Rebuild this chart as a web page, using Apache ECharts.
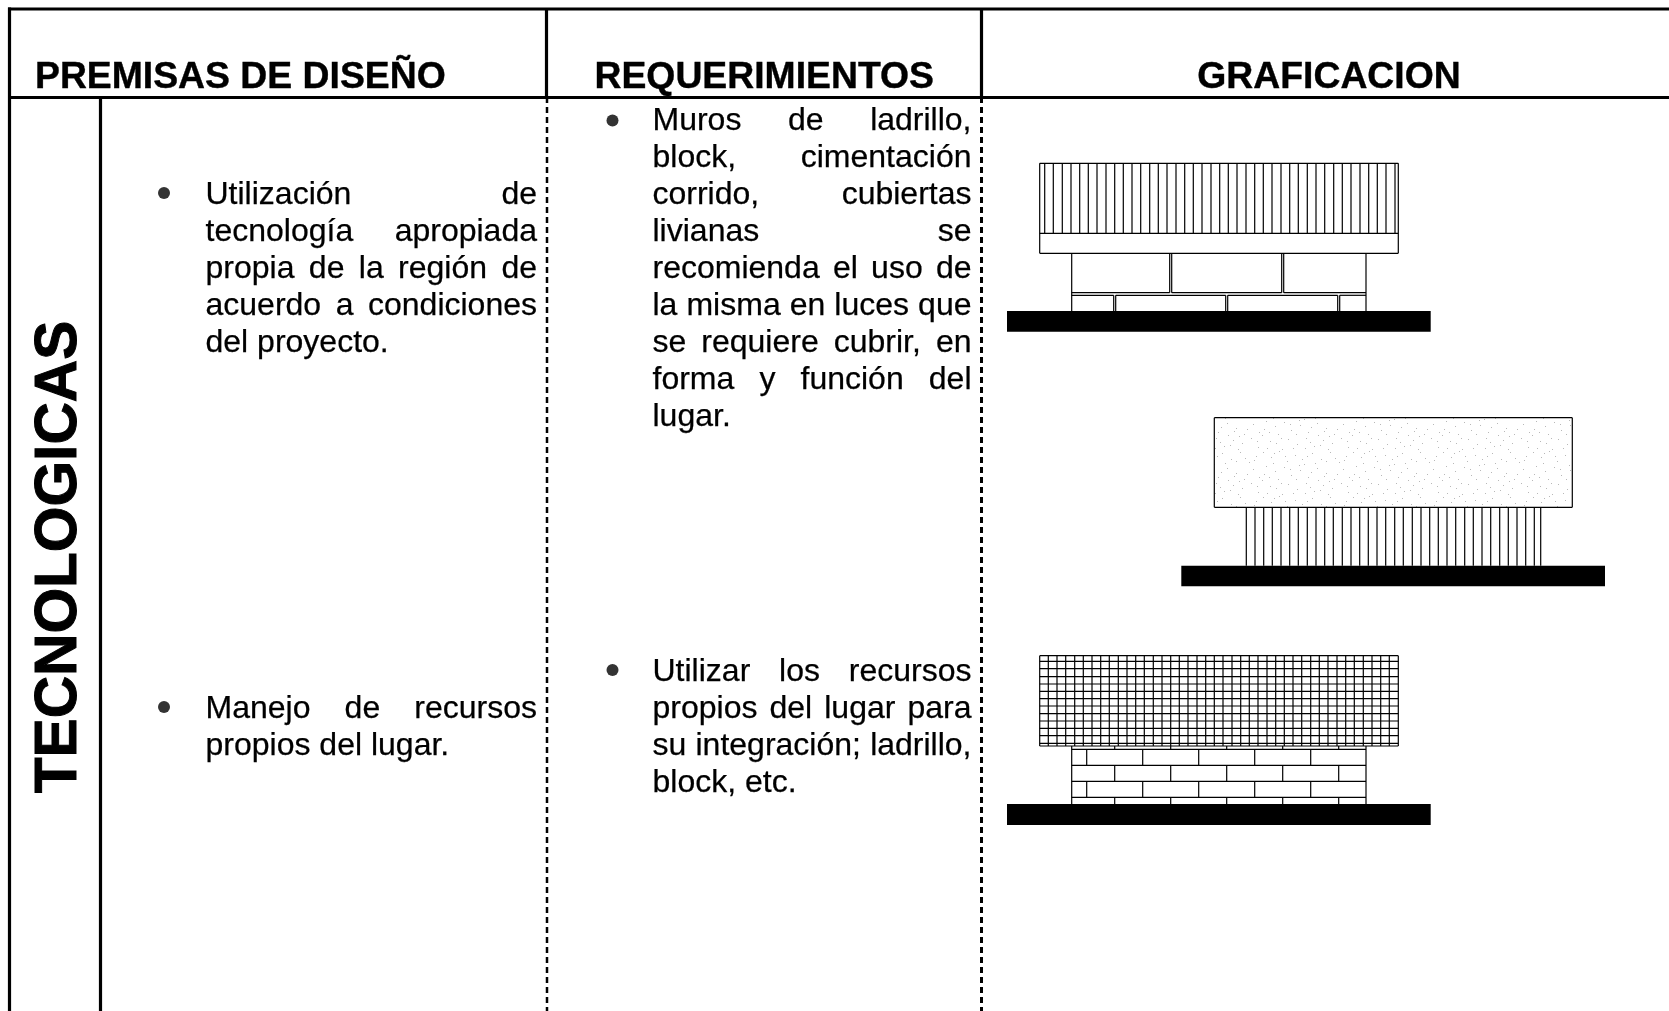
<!DOCTYPE html>
<html><head><meta charset="utf-8">
<style>html,body{margin:0;padding:0;background:#fff;overflow:hidden}#c{width:1669px;height:1011px}</style>
<script src="https://cdn.jsdelivr.net/npm/echarts@6/dist/echarts.min.js"></script>
</head><body><div id="c"></div>
<script>
// ---- text content ----
const headerLabels = ['PREMISAS DE DISEÑO', 'REQUERIMIENTOS', 'GRAFICACION'];
const sideLabel = 'TECNOLOGICAS';
const premisa1 = ['Utilización de', 'tecnología apropiada', 'propia de la región de', 'acuerdo a condiciones', 'del proyecto.'];
const premisa2 = ['Manejo de recursos', 'propios del lugar.'];
const requerimiento1 = ['Muros de ladrillo,', 'block, cimentación', 'corrido, cubiertas', 'livianas se', 'recomienda el uso de', 'la misma en luces que', 'se requiere cubrir, en', 'forma y función del', 'lugar.'];
const requerimiento2 = ['Utilizar los recursos', 'propios del lugar para', 'su integración; ladrillo,', 'block, etc.'];

// ---- table rules, in the page's 1669 x 1011 drawing units ----
const frameRules = [[8,9,1669,9],[8,97.5,1669,97.5],[9.5,7.5,9.5,1011],[100.5,97,100.5,1011],[546.5,9,546.5,97],[981.5,9,981.5,97]];
const dashedColumn2 = [[547,97,547,1011]];
const dashedColumn3 = [[981.5,97,981.5,1011]];

// ---- black ground slabs [x0,y0,x1,y1] ----
const groundSlabs = [[1007,311,1430.7,331.7],[1181.3,565.7,1605,586.3],[1007,804,1430.7,825]];

// ---- drawing 1: battens, fascia, block wall ----
const roofHatchX = [1044.7,1053.3,1062.3,1071,1079.7,1088.3,1097,1106,1114.7,1123.3,1132,1140.7,1149.7,1158.3,1167,1176,1184.7,1193.3,1202,1211,1219.7,1228.3,1237,1246,1254.7,1263.3,1272,1281,1289.7,1298.3,1307.3,1316,1324.7,1333.7,1342.3,1351,1360,1368.7,1377.3,1386,1395];
const drawing1Rules = [
 [1039.7,163.3,1398.3,163.3],[1039.7,233.3,1398.3,233.3],[1039.7,253.3,1398.3,253.3],[1039.7,163.3,1039.7,253.3],[1398.3,163.3,1398.3,253.3],
 [1071.7,253.3,1071.7,311],[1366,253.3,1366,311],
 [1071.7,292.7,1169.7,292.7],[1171.7,292.7,1281.7,292.7],[1283.7,292.7,1366,292.7],
 [1071.7,295.3,1113.7,295.3],[1115.7,295.3,1225.7,295.3],[1227.7,295.3,1337.7,295.3],[1339.7,295.3,1366,295.3],
 [1169.7,253.3,1169.7,292.7],[1171.7,253.3,1171.7,292.7],[1281.7,253.3,1281.7,292.7],[1283.7,253.3,1283.7,292.7],
 [1113.7,295.3,1113.7,311],[1115.7,295.3,1115.7,311],[1225.7,295.3,1225.7,311],[1227.7,295.3,1227.7,311],[1337.7,295.3,1337.7,311],[1339.7,295.3,1339.7,311]
];

// ---- drawing 2: stippled slab on columns ----
const columnHatchX = [1246.3,1255,1263.7,1272.3,1281,1289.7,1298.3,1307.3,1316,1324.7,1333.3,1342.3,1351,1359.7,1368.3,1377,1385.7,1394.7,1403.3,1412.3,1421,1429.7,1438.3,1447,1455.7,1464.7,1473.3,1482,1490.7,1499.7,1508.3,1517,1525.7,1534.3,1540.7];
const drawing2Rect = [1214.3,417.7,1572.3,507.3];
const stippleTile = [[3,2],[11,7],[19,1],[27,11],[35,5],[44,14],[52,3],[61,9],[70,2],[79,12],[86,6],[6,16],[15,21],[24,17],[31,25],[40,20],[48,27],[57,18],[66,23],[74,29],[83,19],[2,30],[10,36],[18,29],[28,34],[37,39],[46,33],[54,41],[63,35],[72,38],[81,33],[88,42],[7,43],[22,44],[33,43],[50,37],[68,44],[77,24],[42,9],[13,13],[58,30],[89,27],[25,6],[66,11],[36,29],[4,24],[84,10],[55,13],[16,38],[45,43],[9,27],[21,33],[39,15],[60,40],[75,8],[30,19],[51,22],[69,31],[87,36],[14,3],[47,6],[64,26]];

// ---- drawing 3: mesh roof on brick wall ----
const meshX = [1048.3,1057,1065.7,1074.7,1083.3,1092,1100.7,1109.3,1118.3,1127,1135.7,1144.3,1153.3,1162,1170.7,1179.3,1188,1197,1205.7,1214.3,1223,1232,1240.7,1249.3,1258,1267,1275.7,1284.3,1293,1301.7,1310.7,1319.3,1328,1337,1345.7,1354.3,1363.3,1372,1380.7,1389.3];
const meshY = [661.3,668.7,676.7,684,691.3,698.7,706,713.7,721,728.3,735.7,743.3];
const meshRect = [1039.7,655.7,1398.3,746];
const brickWall = [1071.7,746,1366,804];
const brickCourseY = [749.3,765.3,781.3,797.3];
const evenCourseX = [1114.7,1170.7,1226.7,1282.7,1338.7];
const oddCourseX = [1086.7,1142.7,1198.7,1254.7,1310.7];
const evenCourses = [[746,749.3],[765.3,781.3],[797.3,804]];
const oddCourses = [[749.3,765.3],[781.3,797.3]];

// ---- text anchors ----
const baselinesReq1 = [132,169,206,243,280,317,354,391,428];
const baselinesPre1 = [206,243,280,317,354];
const baselinesReq2 = [683,720,757,794];
const baselinesPre2 = [720,757];
const bullets = [[164,193],[164,707],[612.5,120.5],[612.5,670]];

// ---- assembly ----
const thinRules = [].concat(
  roofHatchX.map(x => [x,163.3,x,233.3]),
  drawing1Rules,
  columnHatchX.map(x => [x,507.3,x,565.7]),
  meshX.map(x => [x,meshRect[1],x,meshRect[3]]),
  meshY.map(y => [meshRect[0],y,meshRect[2],y]),
  [[1039.7,655.7,1398.3,655.7],[1039.7,746,1398.3,746],[1039.7,655.7,1039.7,746],[1398.3,655.7,1398.3,746]],
  [[brickWall[0],746,brickWall[0],804],[brickWall[2],746,brickWall[2],804]],
  brickCourseY.map(y => [brickWall[0],y,brickWall[2],y]),
  ...evenCourses.map(c => evenCourseX.map(x => [x,c[0],x,c[1]])),
  ...oddCourses.map(c => oddCourseX.map(x => [x,c[0],x,c[1]]))
);

const BODY = '32px "Liberation Sans", Arial, sans-serif';
const measureCtx = document.createElement('canvas').getContext('2d');
function wordWidth(w){ measureCtx.font = BODY; return measureCtx.measureText(w).width; }
const bodyWords = [];
function addParagraph(lines, baselines, left, right){
  lines.forEach((line, i) => {
    const words = line.split(' ');
    const widths = words.map(wordWidth);
    const last = i === lines.length - 1;
    const total = widths.reduce((a,b) => a + b, 0);
    const gap = (!last && words.length > 1) ? (right - left - total) / (words.length - 1) : wordWidth(' ');
    let x = left;
    words.forEach((w, k) => { bodyWords.push([x, baselines[i], w]); x += widths[k] + gap; });
  });
}
addParagraph(premisa1, baselinesPre1, 205.5, 537);
addParagraph(premisa2, baselinesPre2, 205.5, 537);
addParagraph(requerimiento1, baselinesReq1, 652.5, 971.5);
addParagraph(requerimiento2, baselinesReq2, 652.5, 971.5);

// stipple pattern tile
const tile = document.createElement('canvas');
tile.width = 90; tile.height = 45;
const tctx = tile.getContext('2d');
tctx.fillStyle = '#fff'; tctx.fillRect(0,0,90,45);
tctx.fillStyle = '#b8b8b8';
stippleTile.forEach(p => tctx.fillRect(p[0], p[1], 1, 1));

function lineSeries(rules, width, dash, z){
  return {
    type: 'custom', coordinateSystem: 'cartesian2d', silent: true, z: z, animation: false,
    encode: {x:[0,2], y:[1,3]}, data: rules, clip: false,
    renderItem: function(p, api){
      const a = api.coord([api.value(0), api.value(1)]);
      const b = api.coord([api.value(2), api.value(3)]);
      return {type:'line', shape:{x1:a[0],y1:a[1],x2:b[0],y2:b[1]},
        style:{stroke:'#000', lineWidth:width, lineDash: dash || null, fill:null}};
    }
  };
}
function rectSeries(rects, fill, z){
  return {
    type: 'custom', coordinateSystem: 'cartesian2d', silent: true, z: z, animation: false,
    encode: {x:[0,2], y:[1,3]}, data: rects, clip: false,
    renderItem: function(p, api){
      const a = api.coord([api.value(0), api.value(1)]);
      const b = api.coord([api.value(2), api.value(3)]);
      return {type:'rect', shape:{x:a[0],y:a[1],width:b[0]-a[0],height:b[1]-a[1]}, style:{fill:fill}};
    }
  };
}
function textItems(items, font, size, align, rotation, z, weight){
  return {
    type: 'custom', coordinateSystem: 'cartesian2d', silent: true, z: z, animation: false,
    encode: {x:0, y:1}, data: items.map(t => [t[0], t[1]]), clip: false,
    renderItem: function(p, api){
      const a = api.coord([api.value(0), api.value(1)]);
      const off = 0.3465 * size;
      const rotated = !!rotation;
      return {type:'text', x: rotated ? a[0] - off : a[0], y: rotated ? a[1] : a[1] - off, rotation: rotation || 0,
        style:{text: items[p.dataIndex][2], font: font, fill:'#000', align: align, verticalAlign:'middle', stroke:'#000', lineWidth: weight}};
    }
  };
}
const HEAD = 'bold 37.33px "Liberation Sans", Arial, sans-serif';
const SIDE = 'bold 58.67px "Liberation Sans", Arial, sans-serif';

const chart = echarts.init(document.getElementById('c'), null, {renderer:'canvas', width:1669, height:1011});
chart.setOption({
  animation: false, backgroundColor: '#fff',
  grid: {left:0, right:0, top:0, bottom:0, containLabel:false},
  xAxis: {type:'value', min:0, max:1669, show:false},
  yAxis: {type:'value', min:0, max:1011, inverse:true, show:false},
  tooltip: {show:false},
  series: [
    rectSeries([drawing2Rect], {image: tile, repeat:'repeat'}, 1),
    lineSeries(thinRules, 1.2, null, 2),
    lineSeries([[drawing2Rect[0],drawing2Rect[1],drawing2Rect[2],drawing2Rect[1]],[drawing2Rect[0],drawing2Rect[3],drawing2Rect[2],drawing2Rect[3]],[drawing2Rect[0],drawing2Rect[1],drawing2Rect[0],drawing2Rect[3]],[drawing2Rect[2],drawing2Rect[1],drawing2Rect[2],drawing2Rect[3]]], 1.2, null, 2),
    rectSeries(groundSlabs, '#000', 3),
    lineSeries(dashedColumn2, 2.5, [6,4], 4),
    lineSeries(dashedColumn3, 3, [6,4], 4),
    lineSeries(frameRules, 3.2, null, 5),
    {type:'scatter', symbol:'circle', symbolSize:12, silent:true, z:6, itemStyle:{color:'#000'}, data:bullets, animation:false},
    textItems(bodyWords, BODY, 32, 'left', 0, 7, 0.25),
    textItems([[35,90.5,headerLabels[0]],[594.5,90.5,headerLabels[1]]], HEAD, 37.33, 'left', 0, 7, 0.4),
    textItems([[1329,90.5,headerLabels[2]]], HEAD, 37.33, 'center', 0, 7, 0.4),
    textItems([[80.5,557,sideLabel]], SIDE, 58.67, 'center', Math.PI/2, 7, 1)
  ]
});
</script></body></html>
